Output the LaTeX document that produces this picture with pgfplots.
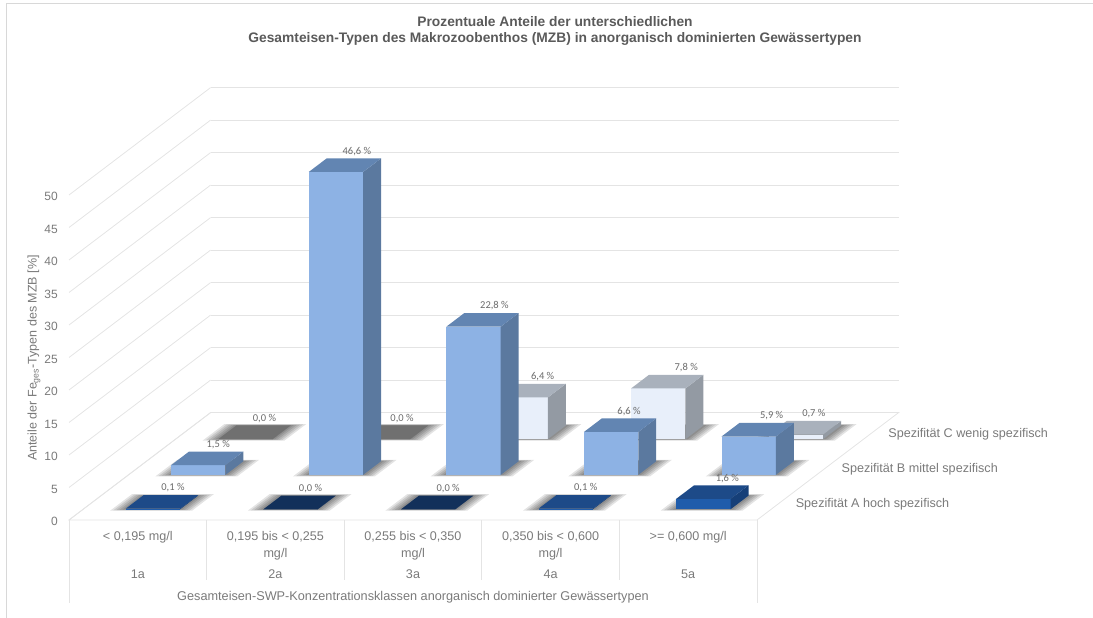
\documentclass[border=0pt]{standalone}
\usepackage{pgfplots}
\pgfplotsset{compat=1.18}
\usepackage{fontspec}
\setmainfont{Liberation Sans}
\newfontfamily\valuefont{Carlito}

\definecolor{gridgray}{HTML}{E4E4E4}
\definecolor{framegray}{HTML}{D8D8D8}
\definecolor{textgray}{HTML}{7A7A7A}
\definecolor{titlegray}{HTML}{5A5A5A}
\definecolor{valgray}{HTML}{6A6A6A}
% Faces of the three specificity rows
\definecolor{bF}{HTML}{8DB2E4}\definecolor{bS}{HTML}{5B799F}\definecolor{bT}{HTML}{6285B2}
\definecolor{cF}{HTML}{E8EFFA}\definecolor{cS}{HTML}{939AA3}\definecolor{cT}{HTML}{A9B1BC}
\definecolor{aF}{HTML}{1F5CAB}\definecolor{aS}{HTML}{163F78}\definecolor{aT}{HTML}{1D4A88}
\definecolor{nT}{HTML}{12305A}
\definecolor{gT}{HTML}{707070}

\tikzset{
  vallabel/.style={font=\valuefont\fontsize{10.5}{10.5}\selectfont,text=valgray,inner sep=0pt,yshift=7pt},
  rowlabel/.style={font=\fontsize{12.6}{15}\selectfont,text=textgray,anchor=west,inner sep=0pt,xshift=15.5pt,yshift=-1.5pt},
}

% Bar footprint in axis units
\def\barw{0.395}
\def\bard{0.38}

\newcommand{\floorshadow}[3]{% x0, y0, spread
  \pgfmathsetmacro{\sxa}{#1-#3}
  \pgfmathsetmacro{\sxb}{#1+\barw+#3}
  \pgfmathsetmacro{\sya}{#2-#3*0.4}
  \pgfmathsetmacro{\syb}{#2+\bard+#3*0.4}
  \addplot3[draw=none,fill=black,fill opacity=0.11,mark=none,forget plot]
    coordinates {(\sxa,\sya,0) (\sxb,\sya,0) (\sxb,\syb,0) (\sxa,\syb,0)};
}

% \cuboid{x0}{y0}{value}{front}{side}{top}{label}{label shift in px}
\newcommand{\cuboid}[8]{%
  \pgfmathsetmacro{\xb}{#1+\barw}
  \pgfmathsetmacro{\yb}{#2+\bard}
  \pgfmathsetmacro{\xc}{#1+\barw/2}
  \floorshadow{#1}{#2}{0.10}
  \floorshadow{#1}{#2}{0.08}
  \floorshadow{#1}{#2}{0.06}
  \floorshadow{#1}{#2}{0.04}
  \floorshadow{#1}{#2}{0.02}
  \addplot3[draw=none,fill=#4,mark=none,forget plot]
    coordinates {(#1,#2,0) (\xb,#2,0) (\xb,#2,#3) (#1,#2,#3)};
  \addplot3[draw=none,fill=#5,mark=none,forget plot]
    coordinates {(\xb,#2,0) (\xb,\yb,0) (\xb,\yb,#3) (\xb,#2,#3)};
  \addplot3[draw=none,fill=#6,mark=none,forget plot]
    coordinates {(#1,#2,#3) (\xb,#2,#3) (\xb,\yb,#3) (#1,\yb,#3)};
  \edef\placelabel{\noexpand\node[vallabel,xshift=#8pt] at (axis cs:\xc,\yb,#3) {#7};}
  \placelabel
}

\begin{document}
\begin{tikzpicture}[x=1pt,y=1pt]
\path[use as bounding box] (0,0) rectangle (1093,618);
\draw[framegray,line width=1pt] (6.5,0) -- (6.5,614) -- (1093,614);

\begin{axis}[
  at={(69pt,98pt)}, anchor=origin,
  x={(137.6pt,0pt)}, y={(47.2pt,35.8pt)}, z={(0pt,6.5pt)},
  xmin=0, xmax=5, ymin=0, ymax=3, zmin=0, zmax=50,
  clip=false,
  axis line style={draw=none},
  major tick length=0pt,
  xmajorgrids=false, ymajorgrids=false, zmajorgrids=true,
  grid style={gridgray,line width=0.8pt},
  ztick={0,5,...,50},
  ytick=\empty,
  xtick={0.5,1.5,2.5,3.5,4.5},
  xticklabels={
    {< 0,195 mg/l\\~\\[4pt]1a},
    {0,195 bis < 0,255\\mg/l\\[4pt]2a},
    {0,255 bis < 0,350\\mg/l\\[4pt]3a},
    {0,350 bis < 0,600\\mg/l\\[4pt]4a},
    {>= 0,600 mg/l\\~\\[4pt]5a}},
  xticklabel style={font=\fontsize{12.6}{17}\selectfont,text=textgray,align=center,anchor=north,inner sep=0pt,yshift=-11pt},
  zticklabel style={font=\fontsize{12}{14}\selectfont,text=textgray,anchor=east,inner sep=0pt,xshift=-11pt,yshift=-1.5pt},
  /pgf/number format/assume math mode=true,
]
% Floor outline
\draw[gridgray,line width=0.8pt] (axis cs:0,0,0) -- (axis cs:5,0,0) -- (axis cs:5,3,0) -- (axis cs:0,3,0) -- cycle;
% Separators of the category table below the floor
\draw[gridgray,line width=0.8pt] (axis cs:0,0,0) -- (axis cs:0,0,-12.8);
\draw[gridgray,line width=0.8pt] (axis cs:1,0,0) -- (axis cs:1,0,-9.2);
\draw[gridgray,line width=0.8pt] (axis cs:2,0,0) -- (axis cs:2,0,-9.2);
\draw[gridgray,line width=0.8pt] (axis cs:3,0,0) -- (axis cs:3,0,-9.2);
\draw[gridgray,line width=0.8pt] (axis cs:4,0,0) -- (axis cs:4,0,-9.2);
\draw[gridgray,line width=0.8pt] (axis cs:5,0,0) -- (axis cs:5,0,-12.8);

% Names of the three rows beside the right floor edge
\node[rowlabel] at (axis cs:5,0.49,0) {Spezifität A hoch spezifisch};
\node[rowlabel] at (axis cs:5,1.46,0) {Spezifität B mittel spezifisch};
\node[rowlabel] at (axis cs:5,2.45,0) {Spezifität C wenig spezifisch};

% Spezifität C
\cuboid{0.31}{2.26}{0.0}{gT}{gT}{gT}{0,0 \%}{1}
\cuboid{1.31}{2.26}{0.0}{gT}{gT}{gT}{0,0 \%}{1}
\cuboid{2.31}{2.26}{6.4}{cF}{cS}{cT}{6,4 \%}{4}
\cuboid{3.31}{2.26}{7.8}{cF}{cS}{cT}{7,8 \%}{10}
\cuboid{4.31}{2.26}{0.7}{cF}{cS}{cT}{0,7 \%}{0}
% Spezifität B
\cuboid{0.31}{1.26}{1.5}{bF}{bS}{bT}{1,5 \%}{2}
\cuboid{1.31}{1.26}{46.6}{bF}{bS}{bT}{46,6 \%}{3}
\cuboid{2.31}{1.26}{22.8}{bF}{bS}{bT}{22,8 \%}{3}
\cuboid{3.31}{1.26}{6.6}{bF}{bS}{bT}{6,6 \%}{0}
\cuboid{4.31}{1.26}{5.9}{bF}{bS}{bT}{5,9 \%}{5}
% Spezifität A
\cuboid{0.31}{0.30}{0.1}{aF}{aS}{aT}{0,1 \%}{2}
\cuboid{1.31}{0.30}{0.0}{nT}{nT}{nT}{0,0 \%}{2}
\cuboid{2.31}{0.30}{0.0}{nT}{nT}{nT}{0,0 \%}{2}
\cuboid{3.31}{0.30}{0.1}{aF}{aS}{aT}{0,1 \%}{2}
\cuboid{4.31}{0.30}{1.6}{aF}{aS}{aT}{1,6 \%}{6}
\end{axis}

% Titles and the axis captions
\node[font=\bfseries\fontsize{13.8}{16.5}\selectfont,text=titlegray,align=center] at (555,587)
  {Prozentuale Anteile der unterschiedlichen\\Gesamteisen-Typen des Makrozoobenthos (MZB) in anorganisch dominierten Gewässertypen};
\node[font=\fontsize{12.5}{14}\selectfont,text=textgray,rotate=90] at (34,260)
  {Anteile der Fe\textsubscript{ges}-Typen des MZB [\%]};
\node[font=\fontsize{12.7}{15}\selectfont,text=textgray] at (413,20.5)
  {Gesamteisen-SWP-Konzentrationsklassen anorganisch dominierter Gewässertypen};
\end{tikzpicture}
\end{document}
